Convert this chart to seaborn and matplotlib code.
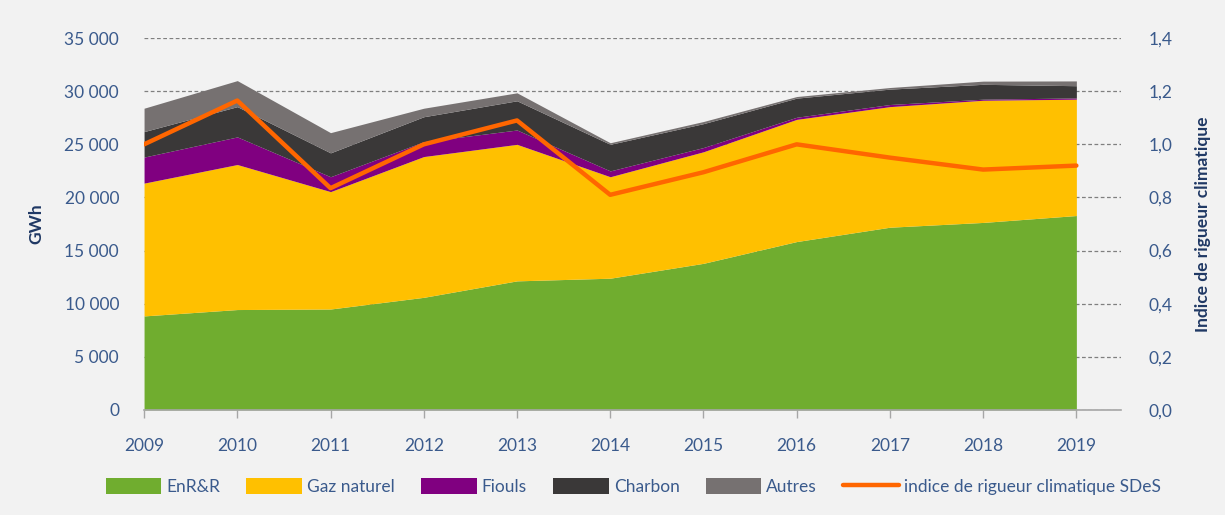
import seaborn as sns
import pandas as pd
import numpy as np
import matplotlib.pyplot as plt
from matplotlib.patches import Patch
from matplotlib.lines import Line2D
from matplotlib.ticker import FuncFormatter, MultipleLocator

# data (GWh)
years = [2009, 2010, 2011, 2012, 2013, 2014, 2015, 2016, 2017, 2018, 2019]
enr = [8850, 9450, 9500, 10600, 12150, 12400, 13800, 15850, 17200, 17650, 18300]
gaz = [12500, 13650, 11050, 13250, 12850, 9550, 10500, 11500, 11350, 11500, 10950]
fiouls = [2450, 2600, 1400, 1400, 1350, 550, 400, 200, 200, 100, 120]
charbon = [2400, 2850, 2250, 2350, 2750, 2500, 2250, 1800, 1450, 1400, 1150]
autres = [2200, 2450, 1900, 800, 750, 150, 200, 150, 150, 300, 450]
indice = [1.0, 1.165, 0.835, 1.0, 1.09, 0.81, 0.895, 1.0, 0.95, 0.905, 0.92]

labels = ["EnR&R", "Gaz naturel", "Fiouls", "Charbon", "Autres"]
colors = ["#70AD2F", "#FFC000", "#800080", "#3A3838", "#767171"]
orange = "#FF6600"
txt_col = "#3A5A8C"
lab_col = "#1F3864"

sns.set_theme(style="white")
plt.rcParams['font.family'] = ['Lato', 'DejaVu Sans']

df = pd.DataFrame({"annee": years, "indice": indice})

fig = plt.figure(figsize=(12.25, 5.15), dpi=100, facecolor="#F2F2F2")
ax = fig.add_axes([0.1176, 0.204, 0.7976, 0.722])
ax.set_facecolor("#F2F2F2")

ax.stackplot(years, enr, gaz, fiouls, charbon, autres, colors=colors, lw=0, zorder=2)

ax.set_xlim(2009, 2019.48)
ax.set_ylim(0, 35000)
ax.yaxis.set_major_locator(MultipleLocator(5000))
ax.yaxis.set_major_formatter(FuncFormatter(lambda v, p: f"{int(v):,}".replace(",", " ")))
ax.set_xticks(years)
ax.grid(axis="y", ls=(0, (3, 2)), lw=0.9, color="#7F7F7F", zorder=1)
ax.set_axisbelow(True)
for s in ["top", "left", "right"]:
    ax.spines[s].set_visible(False)
ax.spines["bottom"].set_color("#A6A6A6")
ax.spines["bottom"].set_linewidth(1.2)
ax.spines["bottom"].set_zorder(5)
ax.tick_params(axis="x", colors="#A6A6A6", labelcolor=txt_col, direction="out",
               length=6, width=1, pad=14, labelsize=12.5, bottom=True)
ax.tick_params(axis="y", labelcolor=txt_col, length=0, pad=18, labelsize=12.5)
ax.set_ylabel("GWh", color=lab_col, fontsize=12.5, fontweight="bold", labelpad=14)

ax2 = ax.twinx()
sns.lineplot(data=df, x="annee", y="indice", ax=ax2, color=orange, lw=3.2, zorder=4)
ax2.set_ylim(0, 1.4)
ax2.yaxis.set_major_locator(MultipleLocator(0.2))
ax2.yaxis.set_major_formatter(FuncFormatter(lambda v, p: f"{v:.1f}".replace(".", ",")))
ax2.set_xlim(2009, 2019.48)
for s in ["top", "left", "right", "bottom"]:
    ax2.spines[s].set_visible(False)
ax2.tick_params(axis="y", labelcolor=txt_col, length=0, pad=20, labelsize=12.5)
ax2.set_xlabel("")
ax2.set_ylabel("Indice de rigueur climatique", color=lab_col, fontsize=12.5,
               fontweight="bold", labelpad=16)

handles = [Patch(facecolor=c, edgecolor="none") for c in colors]
handles.append(Line2D([], [], color=orange, lw=3.2))
fig.legend(handles, labels + ["indice de rigueur climatique SDeS"], loc="center",
           bbox_to_anchor=(0.517, 0.055), ncol=6, frameon=False, fontsize=12.5,
           labelcolor=txt_col, handlelength=3.2, handleheight=1.0,
           handletextpad=0.3, columnspacing=1.5)

plt.savefig("out.png", dpi=100, facecolor=fig.get_facecolor())
